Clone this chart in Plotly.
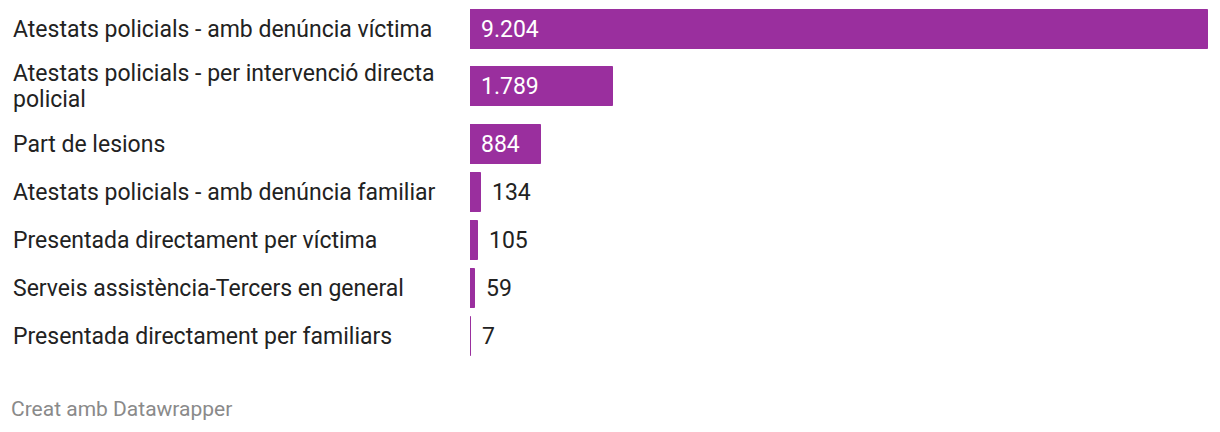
import plotly.graph_objects as go

categories = [
    "Atestats policials - amb denúncia víctima",
    "Atestats policials - per intervenció directa<br>policial",
    "Part de lesions",
    "Atestats policials - amb denúncia familiar",
    "Presentada directament per víctima",
    "Serveis assistència-Tercers en general",
    "Presentada directament per familiars",
]
values = [9204, 1789, 884, 134, 105, 59, 7]
inside_label = [True, True, True, False, False, False, False]

W, H = 1220, 432
BAR_COLOR = "#9a2f9e"
FONT = "Roboto"
LABEL_SIZE = 23
LINE_GAP = 26

# layout: row heights derived from label line counts (pixel units on y axis)
row_base, extra_line, top = 48, 19, 5
centers = []
cur = top
for c in categories:
    h = row_base + extra_line * (c.count("<br>"))
    centers.append(cur + h / 2)
    cur += h

fig = go.Figure()
fig.add_trace(go.Bar(
    x=values, y=centers, orientation="h", width=39,
    marker=dict(color=BAR_COLOR, line=dict(color=BAR_COLOR, width=1)),
    hoverinfo="skip",
))

ann = []
for c, yc in zip(categories, centers):
    lines = c.split("<br>")
    n = len(lines)
    for i, ln in enumerate(lines):
        off = (i - (n - 1) / 2) * LINE_GAP
        ann.append(dict(x=11 / W, xref="paper", y=yc + off, yref="y", text=ln, showarrow=False,
                        xanchor="left", yanchor="middle", align="left",
                        font=dict(family=FONT, size=LABEL_SIZE, color="#222")))
for v, yc, ins in zip(values, centers, inside_label):
    txt = f"{v:,}".replace(",", ".")
    ann.append(dict(x=0 if ins else v, xref="x", y=yc, yref="y", text=txt, showarrow=False,
                    xanchor="left", yanchor="middle", xshift=9,
                    font=dict(family=FONT, size=LABEL_SIZE, color="white" if ins else "#222")))
ann.append(dict(x=9 / W, xref="paper", y=409, yref="y", text="Creat amb Datawrapper",
                showarrow=False, xanchor="left", yanchor="middle",
                font=dict(family=FONT, size=21, color="#8a8a8a")))

fig.update_layout(
    width=W, height=H, margin=dict(l=0, r=0, t=0, b=0),
    paper_bgcolor="white", plot_bgcolor="white", showlegend=False,
    xaxis=dict(domain=[470 / W, 1208 / W], range=[0, max(values)], visible=False, fixedrange=True),
    yaxis=dict(domain=[0, 1], range=[H, 0], visible=False, fixedrange=True),
    annotations=ann, bargap=0,
)
fig.write_html("out.html", config={"displayModeBar": False},
               post_script="document.body.style.margin='0';document.body.style.overflow='hidden';")
